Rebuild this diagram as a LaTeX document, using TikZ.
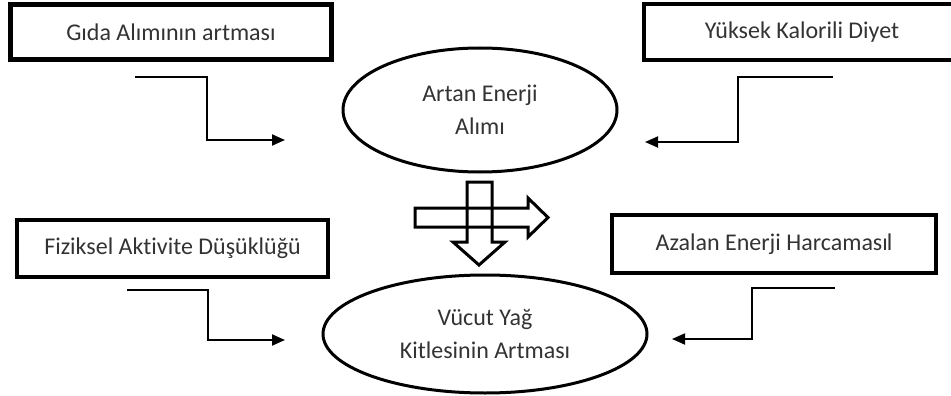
\documentclass[tikz,border=0pt]{standalone}
\usepackage{fontspec}
\setmainfont{Carlito}[Ligatures={NoCommon,NoContextual}]
\usetikzlibrary{arrows.meta,shapes.geometric}
\definecolor{txt}{HTML}{333333}
\tikzset{
  factorbox/.style={draw=black, line width=4.5pt, rectangle, inner sep=0pt, text=txt, font=\fontsize{24}{28}\selectfont},
  oval/.style={draw=black, line width=3pt, ellipse, inner sep=0pt, text=txt, align=center, font=\fontsize{24}{33}\selectfont},
  elbow/.style={draw=black, line width=1.8pt, -{Triangle[length=13pt,width=11pt]}},
  hollow/.style={draw=black, line width=3pt, line join=miter}
}
\begin{document}
\begin{tikzpicture}[x=1pt,y=-1pt]
\useasboundingbox (0,0) rectangle (951,396);
\clip (0,0) rectangle (951,396);
% boxes
\node[factorbox, minimum width=321pt, minimum height=55pt] (b1) at (171,32) {Gıda Alımının artması};
\node[factorbox, minimum width=316pt, minimum height=56pt] (b2) at (802,32) {Yüksek Kalorili Diyet};
\node[factorbox, minimum width=311pt, minimum height=57pt] (b3) at (172.5,248.5) {Fiziksel Aktivite Düşüklüğü};
\node[factorbox, minimum width=324pt, minimum height=58pt] (b4) at (774,244) {Azalan Enerji Harcaması\kern-1pt l};
% ellipses
\node[oval, minimum width=274pt, minimum height=124pt] (e1) at (480,110) {Artan Enerji\\Alımı};
\node[oval, minimum width=324pt, minimum height=118pt] (e2) at (485,334) {Vücut Yağ\\Kitlesinin Artması};
% elbow connector coordinates
\coordinate (a1s) at (135,77);  \coordinate (a1e) at (285,140);
\coordinate (a2s) at (833,77);  \coordinate (a2e) at (645,142);
\coordinate (a3s) at (127,290); \coordinate (a3e) at (285,340);
\coordinate (a4s) at (835,288); \coordinate (a4e) at (672,339);
\draw[elbow] (a1s) -- (207,77) -- (207,140) -- (a1e);
\draw[elbow] (a2s) -- (738,77) -- (738,142) -- (a2e);
\draw[elbow] (a3s) -- (208,290) -- (208,340) -- (a3e);
\draw[elbow] (a4s) -- (752,288) -- (752,339) -- (a4e);
% hollow block arrows
\draw[hollow] (415,208) -- (528,208) -- (528,198) -- (548,217.5) -- (528,237) -- (528,227) -- (415,227) -- cycle;
\draw[hollow] (467,182) -- (492,182) -- (492,242) -- (505,242) -- (479,265) -- (453,242) -- (467,242) -- cycle;
\end{tikzpicture}
\end{document}
